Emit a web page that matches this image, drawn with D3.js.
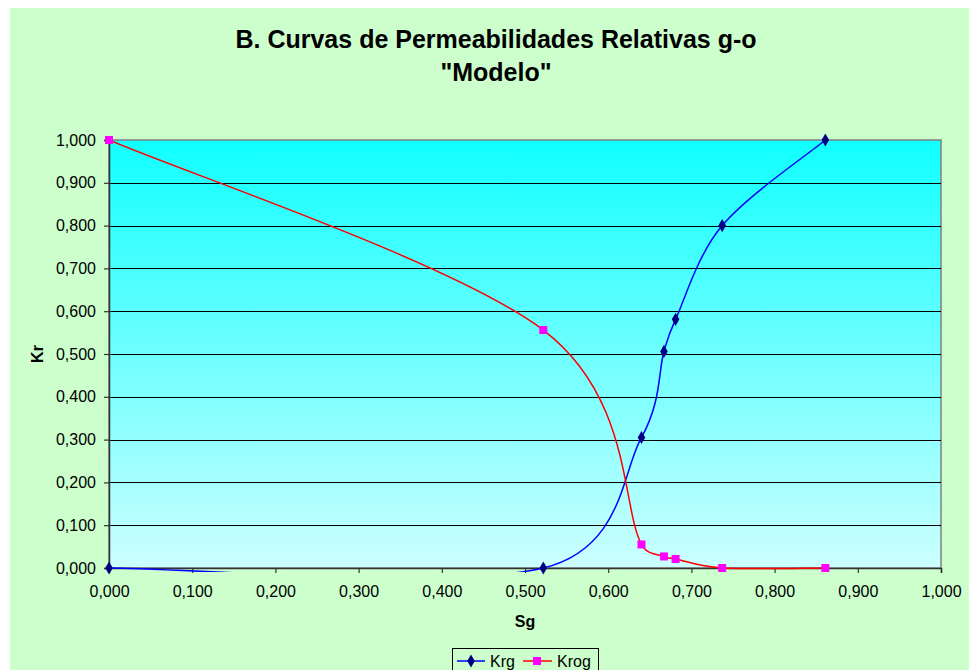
<!DOCTYPE html>
<html>
<head>
<meta charset="utf-8">
<script src="https://cdn.jsdelivr.net/npm/d3@7"></script>
<style>
body { margin: 0; background: #ffffff; }
svg text { font-family: "Liberation Sans", Arial, sans-serif; fill: #000; }
</style>
</head>
<body>
<svg id="chart" width="969" height="670"></svg>
<script>
// values
var sg = [0.000, 0.522, 0.640, 0.667, 0.681, 0.737, 0.861];
var krg = [0.000, 0.000, 0.305, 0.506, 0.581, 0.800, 1.000];
var krog = [1.000, 0.556, 0.055, 0.027, 0.021, 0.000, 0.000];
var ticks = [0, 0.1, 0.2, 0.3, 0.4, 0.5, 0.6, 0.7, 0.8, 0.9, 1.0];
var title = ["B. Curvas de Permeabilidades Relativas g-o", "\"Modelo\""];
var seriesNames = ["Krg", "Krog"];

var svg = d3.select("#chart");
var plot = {left: 109, top: 140, right: 941, bottom: 568};
var font = "'Liberation Sans', Arial, sans-serif";

var fmt = d3.formatLocale({decimal: ",", thousands: ".", grouping: [3], currency: ["", ""]}).format(".3f");

var x = d3.scaleLinear().domain([0, 1]).range([plot.left, plot.right]);
var y = d3.scaleLinear().domain([0, 1]).range([plot.bottom, plot.top]);

// excel style smoothed line: bezier with 1/6 tangents, capped on short segments
function smooth_path(pts) {
	var p = d3.path();
	var n = pts.length;
	p.moveTo(pts[0][0], pts[0][1]);
	for (var i = 0; i < n - 1; i++) {
		var p0 = pts[Math.max(i - 1, 0)], p1 = pts[i], p2 = pts[i + 1], p3 = pts[Math.min(i + 2, n - 1)];
		var seg = Math.hypot(p2[0] - p1[0], p2[1] - p1[1]);
		var t1 = [(p2[0] - p0[0]) / 6, (p2[1] - p0[1]) / 6];
		var t2 = [(p3[0] - p1[0]) / 6, (p3[1] - p1[1]) / 6];
		var l1 = Math.hypot(t1[0], t1[1]), l2 = Math.hypot(t2[0], t2[1]);
		var k1 = l1 > seg * 0.5 ? seg * 0.5 / l1 : 1;
		var k2 = l2 > seg * 0.5 ? seg * 0.5 / l2 : 1;
		p.bezierCurveTo(p1[0] + t1[0] * k1, p1[1] + t1[1] * k1,
						p2[0] - t2[0] * k2, p2[1] - t2[1] * k2,
						p2[0], p2[1]);
	}
	return p.toString();
}

// chart background
svg.append("rect")
	.attr("x", 10).attr("y", 8)
	.attr("width", 959).attr("height", 662)
	.attr("fill", "#ccffcc");

var defs = svg.append("defs");
var grad = defs.append("linearGradient")
	.attr("id", "plotfill")
	.attr("x1", 0).attr("y1", 0).attr("x2", 0).attr("y2", 1);
grad.append("stop").attr("offset", "0%").attr("stop-color", "#10ffff");
grad.append("stop").attr("offset", "100%").attr("stop-color", "#ccffff");

defs.append("clipPath").attr("id", "plotclip")
	.append("rect")
	.attr("x", plot.left).attr("y", plot.top - 6)
	.attr("width", plot.right - plot.left + 6)
	.attr("height", plot.bottom - plot.top + 10);

svg.append("rect")
	.attr("x", plot.left).attr("y", plot.top)
	.attr("width", plot.right - plot.left)
	.attr("height", plot.bottom - plot.top)
	.attr("fill", "url(#plotfill)")
	.attr("stroke", "#808080")
	.attr("stroke-width", 1.5);

// gridlines
svg.append("g")
	.selectAll("line")
	.data(ticks.slice(1, -1))
	.join("line")
	.attr("x1", plot.left).attr("x2", plot.right)
	.attr("y1", function(d) { return Math.round(y(d)) + 0.5; })
	.attr("y2", function(d) { return Math.round(y(d)) + 0.5; })
	.attr("stroke", "#000")
	.attr("stroke-width", 1.2);

// axes
var yAxis = svg.append("g")
	.attr("transform", "translate(" + plot.left + ",0)")
	.call(d3.axisLeft(y).tickValues(ticks).tickFormat(fmt).tickSize(5).tickPadding(8));
var xAxis = svg.append("g")
	.attr("transform", "translate(0," + plot.bottom + ")")
	.call(d3.axisBottom(x).tickValues(ticks).tickFormat(fmt).tickSize(5).tickPadding(13));

[yAxis, xAxis].forEach(function(ax) {
	ax.select(".domain").attr("stroke", "#333").attr("stroke-width", 1.5);
	ax.selectAll(".tick line").attr("stroke", "#333").attr("stroke-width", 1.2);
	ax.selectAll("text").attr("font-size", 16).attr("font-family", font).attr("fill", "#000");
});

// titles
svg.append("text")
	.attr("x", 496).attr("y", 48)
	.attr("text-anchor", "middle")
	.attr("font-size", 25).attr("font-weight", "bold")
	.text(title[0]);
svg.append("text")
	.attr("x", 496).attr("y", 81)
	.attr("text-anchor", "middle")
	.attr("font-size", 25).attr("font-weight", "bold")
	.text(title[1]);

svg.append("text")
	.attr("x", (plot.left + plot.right) / 2).attr("y", 627)
	.attr("text-anchor", "middle")
	.attr("font-size", 16).attr("font-weight", "bold")
	.text("Sg");
svg.append("text")
	.attr("transform", "translate(43," + ((plot.top + plot.bottom) / 2) + ") rotate(-90)")
	.attr("text-anchor", "middle")
	.attr("font-size", 16).attr("font-weight", "bold")
	.text("Kr");

// series
var krgPts = sg.map(function(s, i) { return [x(s), y(krg[i])]; });
var krogPts = sg.map(function(s, i) { return [x(s), y(krog[i])]; });

var lines = svg.append("g").attr("clip-path", "url(#plotclip)");
lines.append("path")
	.attr("d", smooth_path(krgPts))
	.attr("fill", "none")
	.attr("stroke", "#0000ff")
	.attr("stroke-width", 1.5);
lines.append("path")
	.attr("d", smooth_path(krogPts))
	.attr("fill", "none")
	.attr("stroke", "#ff0000")
	.attr("stroke-width", 1.5);

var diamond = d3.symbol().type(d3.symbolDiamond).size(50);

svg.append("g")
	.selectAll("path")
	.data(krgPts)
	.join("path")
	.attr("d", diamond)
	.attr("transform", function(d) { return "translate(" + d[0] + "," + d[1] + ")"; })
	.attr("fill", "#000080");

svg.append("g")
	.selectAll("rect")
	.data(krogPts)
	.join("rect")
	.attr("x", function(d) { return d[0] - 4; })
	.attr("y", function(d) { return d[1] - 4; })
	.attr("width", 8).attr("height", 8)
	.attr("fill", "#ff00ff");

// legend
var legend = svg.append("g");
legend.append("rect")
	.attr("x", 452.5).attr("y", 648.5)
	.attr("width", 146).attr("height", 30)
	.attr("fill", "#ccffcc")
	.attr("stroke", "#000")
	.attr("stroke-width", 1);

legend.append("line")
	.attr("x1", 457).attr("x2", 485).attr("y1", 661).attr("y2", 661)
	.attr("stroke", "#0000ff").attr("stroke-width", 1.5);
legend.append("path")
	.attr("d", diamond)
	.attr("transform", "translate(471,661)")
	.attr("fill", "#000080");
legend.append("text")
	.attr("x", 490).attr("y", 667)
	.attr("font-size", 16)
	.text(seriesNames[0]);

legend.append("line")
	.attr("x1", 523).attr("x2", 552).attr("y1", 661).attr("y2", 661)
	.attr("stroke", "#ff0000").attr("stroke-width", 1.5);
legend.append("rect")
	.attr("x", 533).attr("y", 657)
	.attr("width", 8).attr("height", 8)
	.attr("fill", "#ff00ff");
legend.append("text")
	.attr("x", 557).attr("y", 667)
	.attr("font-size", 16)
	.text(seriesNames[1]);
</script>
</body>
</html>
